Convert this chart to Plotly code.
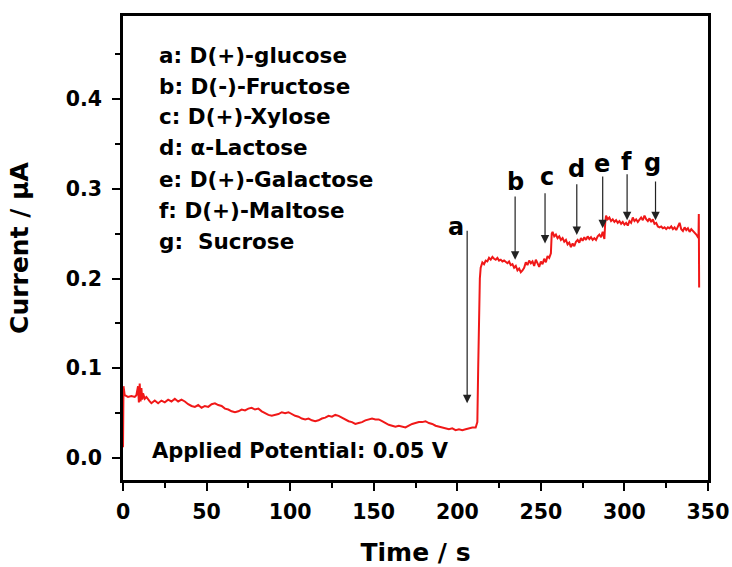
import plotly.graph_objects as go

# ---- data ----
time_s = [0, 0.3, 1, 3, 5, 7, 8, 9, 9.5, 10, 10.5, 11, 11.5, 12, 13, 14, 16, 17, 19, 21, 23, 25, 27, 29, 31, 33, 35, 37, 39,
          41, 43, 45, 47, 49, 51, 53, 55, 57, 59, 61, 63, 65, 67, 69, 71, 73, 75, 77, 79, 81, 83, 85, 87, 89, 91, 93, 95, 97, 99,
          101, 103, 105, 107, 109, 111, 113, 115, 117, 119, 121, 123, 125, 127, 129, 131, 133, 135, 137, 139, 141, 143, 145,
          147, 149, 151, 153, 155, 157, 159, 161, 163, 165, 167, 169, 171, 173, 175, 177, 179, 181, 183, 185, 187, 189, 191,
          193, 195, 197, 199, 201, 203, 205, 207, 209, 211, 212, 212.5, 213, 213.5, 214, 215, 216, 217, 218, 219, 220, 221,
          222, 223, 224, 225, 226, 227, 228, 229, 230, 231, 232, 233, 234, 235, 236, 237, 238, 239, 240, 241, 242, 243, 244,
          245, 246, 247, 248, 249, 250, 251, 252, 253, 254, 255, 256, 256.5, 257, 258, 259, 260, 261, 262, 263, 264, 265, 266,
          267, 268, 269, 270, 271, 272, 273, 274, 275, 276, 277, 278, 279, 280, 281, 282, 283, 284, 285, 286, 287, 288, 288.5,
          289, 290, 291, 292, 293, 294, 295, 296, 297, 298, 299, 300, 301, 302, 303, 304, 305, 306, 307, 308, 309, 310, 311,
          312, 313, 314, 315, 316, 317, 318, 319, 320, 321, 322, 323, 324, 325, 326, 327, 328, 329, 330, 331, 332, 333, 334,
          335, 336, 337, 338, 339, 340, 341, 342, 343, 344, 344.3, 344.5, 344.7]
current_uA = [0.012, 0.080, 0.070, 0.068, 0.069, 0.068, 0.070, 0.080, 0.062, 0.083, 0.063, 0.078, 0.065, 0.072, 0.066, 0.068,
              0.063, 0.061, 0.064, 0.061, 0.064, 0.062, 0.065, 0.063, 0.066, 0.063, 0.065, 0.063, 0.060, 0.058, 0.057, 0.059,
              0.056, 0.058, 0.057, 0.060, 0.061, 0.059, 0.058, 0.055, 0.054, 0.052, 0.051, 0.052, 0.054, 0.053, 0.055, 0.056,
              0.054, 0.055, 0.052, 0.050, 0.048, 0.047, 0.048, 0.049, 0.051, 0.050, 0.051, 0.049, 0.047, 0.046, 0.044, 0.043,
              0.044, 0.042, 0.041, 0.042, 0.044, 0.045, 0.047, 0.046, 0.048, 0.047, 0.045, 0.043, 0.041, 0.040, 0.038, 0.039,
              0.040, 0.042, 0.043, 0.044, 0.043, 0.043, 0.041, 0.039, 0.037, 0.036, 0.035, 0.036, 0.035, 0.034, 0.036, 0.038,
              0.039, 0.040, 0.040, 0.041, 0.039, 0.038, 0.036, 0.035, 0.034, 0.033, 0.032, 0.033, 0.031, 0.032, 0.031, 0.032,
              0.033, 0.034, 0.034, 0.040, 0.100, 0.170, 0.200, 0.212, 0.218, 0.216, 0.220, 0.219, 0.223, 0.221, 0.224, 0.222,
              0.221, 0.223, 0.220, 0.221, 0.219, 0.220, 0.218, 0.217, 0.219, 0.215, 0.216, 0.212, 0.214, 0.209, 0.211, 0.207,
              0.209, 0.212, 0.218, 0.215, 0.220, 0.217, 0.219, 0.214, 0.221, 0.216, 0.213, 0.219, 0.216, 0.222, 0.218, 0.225,
              0.223, 0.228, 0.250, 0.252, 0.247, 0.249, 0.245, 0.247, 0.243, 0.245, 0.241, 0.243, 0.238, 0.240, 0.235, 0.239,
              0.236, 0.241, 0.243, 0.240, 0.245, 0.242, 0.246, 0.243, 0.247, 0.244, 0.246, 0.243, 0.245, 0.243, 0.247, 0.249,
              0.246, 0.252, 0.244, 0.262, 0.270, 0.266, 0.268, 0.264, 0.266, 0.263, 0.265, 0.262, 0.264, 0.261, 0.263, 0.260,
              0.262, 0.259, 0.264, 0.262, 0.268, 0.264, 0.266, 0.263, 0.265, 0.268, 0.265, 0.270, 0.266, 0.264, 0.267, 0.263,
              0.266, 0.261, 0.262, 0.258, 0.257, 0.258, 0.256, 0.257, 0.255, 0.257, 0.256, 0.258, 0.255, 0.257, 0.254, 0.259,
              0.262, 0.255, 0.253, 0.257, 0.254, 0.256, 0.252, 0.255, 0.253, 0.252, 0.249, 0.246, 0.245, 0.272, 0.190]

legend_lines = ["a: D(+)-glucose", "b: D(-)-Fructose", "c: D(+)-Xylose", "d: α-Lactose",
                "e: D(+)-Galactose", "f: D(+)-Maltose", "g:  Sucrose"]

arrow_labels = ["a", "b", "c", "d", "e", "f", "g"]
label_x = [199.0, 234.9, 253.4, 271.1, 286.4, 301.0, 316.9]
label_y = [0.2577, 0.3079, 0.3134, 0.3223, 0.3279, 0.3301, 0.3285]
arrow_x = [205.9, 234.6, 252.5, 271.5, 287.0, 301.6, 318.6]
arrow_top = [0.2548, 0.2930, 0.2967, 0.3068, 0.3153, 0.3179, 0.3097]
arrow_tip = [0.0610, 0.2210, 0.2390, 0.2485, 0.2560, 0.2650, 0.2650]

x_ticks = [0, 50, 100, 150, 200, 250, 300, 350]
y_ticks = [0.0, 0.1, 0.2, 0.3, 0.4]

FONT = "DejaVu Sans"

fig = go.Figure()
fig.add_trace(go.Scatter(x=time_s, y=current_uA, mode="lines",
                         line=dict(color="#f01818", width=2), showlegend=False))

ann = []
# legend text block
for i, txt in enumerate(legend_lines):
    ann.append(dict(text=txt, xref="paper", yref="paper", x=0.0581, y=(480 - (55 + 31 * i)) / 464,
                    xanchor="left", yanchor="middle", showarrow=False,
                    font=dict(family=FONT, size=21.5, color="black", weight="bold")))
# applied potential
ann.append(dict(text="Applied Potential: 0.05 V", xref="paper", yref="paper", x=0.0462, y=0.0625,
                xanchor="left", yanchor="middle", showarrow=False,
                font=dict(family=FONT, size=21, color="black", weight="bold")))
# arrows and labels
for lab, lx, ly, axx, at, tip in zip(arrow_labels, label_x, label_y, arrow_x, arrow_top, arrow_tip):
    ann.append(dict(text="", x=axx, y=tip, ax=axx, ay=at, xref="x", yref="y", axref="x", ayref="y",
                    showarrow=True, arrowhead=2, arrowsize=1.4, arrowwidth=1.2, arrowcolor="#222222",
                    standoff=0, startstandoff=0))
    ann.append(dict(text=lab, x=lx, y=ly, xref="x", yref="y", showarrow=False,
                    xanchor="center", yanchor="middle",
                    font=dict(family=FONT, size=24, color="black", weight="bold")))

axis_common = dict(showline=True, linecolor="black", linewidth=2.5, mirror=True, showgrid=False,
                   zeroline=False, ticks="outside", ticklen=8, tickwidth=2, tickcolor="black",
                   automargin=False,
                   tickfont=dict(family=FONT, size=20.5, color="black", weight="bold"))

fig.update_layout(
    width=732, height=567,
    margin=dict(l=123, r=24, t=16, b=87),
    paper_bgcolor="white", plot_bgcolor="white",
    annotations=ann,
    xaxis=dict(range=[0, 350], tickvals=x_ticks, ticktext=[str(v) for v in x_ticks],
               minor=dict(dtick=25, tick0=0, ticks="outside", ticklen=5, tickwidth=2, tickcolor="black"),
               title=dict(text="Time / s", font=dict(family=FONT, size=25, color="black", weight="bold"),
                          standoff=25),
               ticklabelstandoff=4,
               **axis_common),
    yaxis=dict(range=[-0.0245, 0.4925], tickvals=y_ticks, ticktext=[f"{v:.1f}" for v in y_ticks],
               minor=dict(dtick=0.05, tick0=0, ticks="outside", ticklen=5, tickwidth=2, tickcolor="black"),
               title=dict(text="Current / μA", font=dict(family=FONT, size=25, color="black", weight="bold"),
                          standoff=31),
               ticklabelstandoff=6,
               **axis_common),
)

fig.write_html("out.html")
